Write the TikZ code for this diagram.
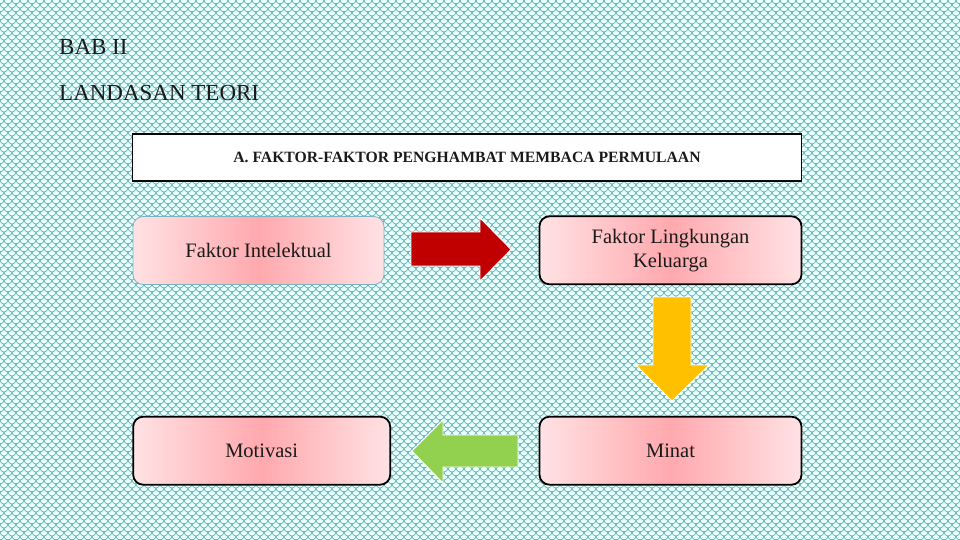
\documentclass[tikz,border=0pt]{standalone}
\usepackage{fontspec}
\setmainfont{Liberation Serif}
\usetikzlibrary{patterns}
\definecolor{bgcyan}{HTML}{E8FFFF}
\definecolor{bgline}{HTML}{5AA8A8}
\definecolor{pinkmid}{HTML}{FFA9AE}
\definecolor{pinkedge}{HTML}{FFE2E4}
\definecolor{boxblue}{HTML}{7AB4C4}
\definecolor{arrred}{HTML}{C00000}
\definecolor{arryellow}{HTML}{FFC000}
\definecolor{arrgreen}{HTML}{92D050}
\definecolor{txt}{HTML}{1A1A1A}
\pgfdeclarepatternformonly{scales}{\pgfpoint{-1pt}{-1pt}}{\pgfpoint{9pt}{9pt}}{\pgfpoint{8pt}{8pt}}{%
  \pgfsetlinewidth{0.6pt}%
  \pgfpathmoveto{\pgfpoint{0pt}{8pt}}\pgfpatharc{180}{360}{4pt}%
  \pgfpathmoveto{\pgfpoint{-4pt}{4pt}}\pgfpatharc{180}{360}{4pt}%
  \pgfpathmoveto{\pgfpoint{4pt}{4pt}}\pgfpatharc{180}{360}{4pt}%
  \pgfusepath{stroke}%
}
\tikzset{
  pinkbox/.style={rounded corners=10pt, left color=pinkedge, right color=pinkedge, middle color=pinkmid,
    draw=black, line width=1.8pt, text=txt, font=\fontsize{20.5}{24}\selectfont, align=center, inner sep=0pt},
  blockarrow/.style={draw=white, line width=0.8pt},
  titletext/.style={text=txt, font=\fontsize{23}{26}\selectfont, anchor=base west, inner sep=0pt}
}
\begin{document}
\begin{tikzpicture}[x=1pt,y=-1pt]
\useasboundingbox (0,0) rectangle (960,540);
\fill[bgcyan] (0,0) rectangle (960,540);
\fill[pattern=scales, pattern color=bgline] (0,0) rectangle (960,540);

\node[titletext] (bab) at (59,55) {BAB II};
\node[titletext] (landasan) at (59,101) {LANDASAN TEORI};

\node[draw=black, fill=white, line width=1.8pt, minimum width=669pt, minimum height=47pt, inner sep=0pt,
  text=txt, font=\bfseries\fontsize{15.7}{18}\selectfont] (header) at (467,157.7) {A. FAKTOR-FAKTOR PENGHAMBAT MEMBACA PERMULAAN};

\node[pinkbox, draw=boxblue, line width=0.8pt, minimum width=251pt, minimum height=68pt] (intelektual) at (258.5,250.5) {Faktor Intelektual};
\node[pinkbox, minimum width=262pt, minimum height=68pt] (keluarga) at (670.5,250.3) {Faktor Lingkungan\\Keluarga};
\node[pinkbox, minimum width=262pt, minimum height=68pt] (minat) at (670.5,450.7) {Minat};
\node[pinkbox, minimum width=257pt, minimum height=68pt] (motivasi) at (261.7,450.7) {Motivasi};

% red arrow (right)
\fill[arrred] (411,232) -- (480,232) -- (480,218) -- (511,249.5) -- (480,281) -- (480,266) -- (411,266) -- cycle;
\draw[blockarrow] (411,232) -- (480,232) -- (480,218) -- (511,249.5) -- (480,281) -- (480,266) -- (411,266) -- cycle;
% yellow arrow (down)
\fill[arryellow] (653,297) -- (691,297) -- (691,365) -- (709,365) -- (672,401) -- (636,365) -- (653,365) -- cycle;
\draw[blockarrow] (653,297) -- (691,297) -- (691,365) -- (709,365) -- (672,401) -- (636,365) -- (653,365) -- cycle;
% green arrow (left)
\fill[arrgreen] (518,435) -- (443,435) -- (443,420) -- (412,451) -- (443,483) -- (443,467) -- (518,467) -- cycle;
\draw[blockarrow] (518,435) -- (443,435) -- (443,420) -- (412,451) -- (443,483) -- (443,467) -- (518,467) -- cycle;
\end{tikzpicture}
\end{document}
